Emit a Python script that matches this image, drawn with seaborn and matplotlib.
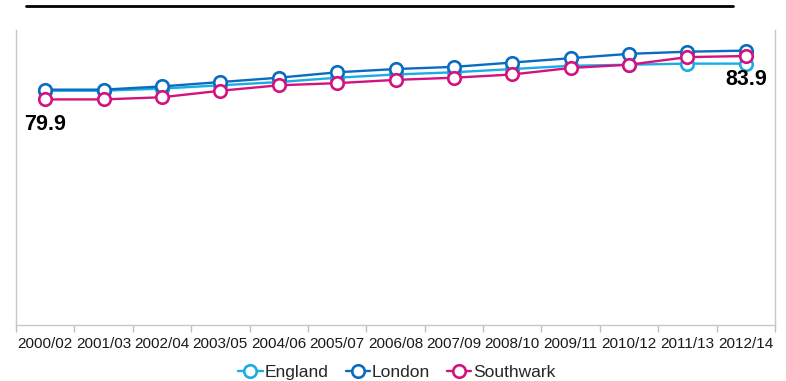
import matplotlib
matplotlib.use("Agg")
import matplotlib.pyplot as plt
from matplotlib.lines import Line2D
from matplotlib.ticker import FixedLocator
import seaborn as sns
import pandas as pd

periods = ["2000/02", "2001/03", "2002/04", "2003/05", "2004/06", "2005/07", "2006/08",
           "2007/09", "2008/10", "2009/11", "2010/12", "2011/13", "2012/14"]
england = [80.7, 80.7, 80.9, 81.2, 81.5, 81.9, 82.2, 82.4, 82.7, 83.0, 83.1, 83.2, 83.2]
london = [80.8, 80.8, 81.1, 81.5, 81.9, 82.4, 82.7, 82.9, 83.3, 83.7, 84.1, 84.3, 84.4]
southwark = [79.9, 79.9, 80.1, 80.7, 81.2, 81.4, 81.7, 81.9, 82.2, 82.8, 83.1, 83.8, 83.9]

series_names = ["England", "London", "Southwark"]
colors = {"England": "#19ADE4", "London": "#0A6CC0", "Southwark": "#D4127F"}

df = pd.DataFrame({
    "pos": list(range(len(periods))) * 3,
    "value": england + london + southwark,
    "area": ["England"] * len(periods) + ["London"] * len(periods) + ["Southwark"] * len(periods),
})

sns.set_theme(style="white")
plt.rcParams["font.family"] = ["Liberation Sans", "DejaVu Sans"]

fig = plt.figure(figsize=(7.86, 3.81), dpi=100)
ax = fig.add_axes([16 / 786, 1 - 325 / 381, (775 - 16) / 786, (325 - 30) / 381])

sns.lineplot(data=df, x="pos", y="value", hue="area", hue_order=series_names,
             palette=colors, marker="o", markersize=9, markerfacecolor="white",
             markeredgewidth=1.9, linewidth=1.7, ax=ax, legend=False)

# hollow markers outlined in each series colour
for line in ax.lines:
    line.set_markeredgecolor(line.get_color())
    line.set_markerfacecolor("white")

ax.set_xlim(-0.5, len(periods) - 0.5)
ax.set_ylim(59.1, 86.3)
ax.set_xlabel("")
ax.set_ylabel("")
ax.set_yticks([])

# category labels centred, tick marks between categories
ax.set_xticks(range(len(periods)))
ax.set_xticklabels(periods, fontsize=11, color="#1a1a1a")
ax.tick_params(axis="x", which="major", length=0, pad=9)
ax.xaxis.set_minor_locator(FixedLocator([i - 0.5 for i in range(len(periods) + 1)]))
ax.tick_params(axis="x", which="minor", length=5, width=1, color="#BFBFBF", bottom=True)

for side in ["left", "bottom", "right"]:
    ax.spines[side].set_visible(True)
    ax.spines[side].set_color("#C8C8C8")
    ax.spines[side].set_linewidth(1)
ax.spines["top"].set_visible(False)

# value labels for Southwark at start and end
ax.text(0, southwark[0] - 2.3, f"{southwark[0]:.1f}", ha="center", va="center",
        fontsize=15.5, fontweight="bold", color="black")
ax.text(len(periods) - 1, southwark[-1] - 2.15, f"{southwark[-1]:.1f}", ha="center", va="center",
        fontsize=15.5, fontweight="bold", color="black")

handles = [Line2D([], [], color=colors[n], marker="o", markersize=9, markerfacecolor="white",
                  markeredgecolor=colors[n], markeredgewidth=1.9, linewidth=1.7)
           for n in series_names]
fig.legend(handles, series_names, loc="center", bbox_to_anchor=(0.505, 1 - 372 / 381), ncol=3,
           frameon=False, fontsize=12.5, handlelength=1.4, handletextpad=0.1, columnspacing=1.0)

fig.add_artist(Line2D([26 / 786, 733 / 786], [1 - 6 / 381, 1 - 6 / 381], color="black", linewidth=2))

fig.savefig("out.png", dpi=100)
